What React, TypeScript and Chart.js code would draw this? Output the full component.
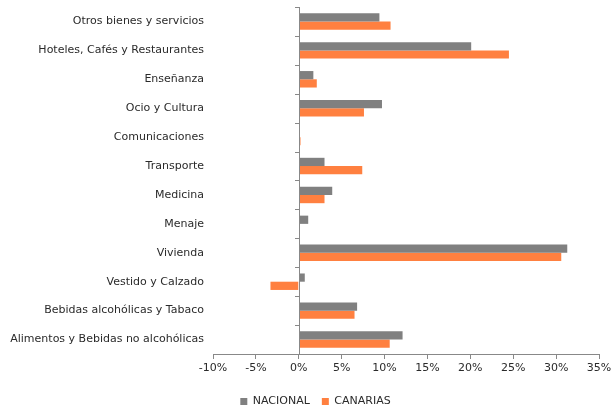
import React, { useEffect, useRef } from "react";
import { Chart, registerables } from "chart.js";

Chart.register(...registerables);

const categories = [
  "Otros bienes y servicios",
  "Hoteles, Cafés y Restaurantes",
  "Enseñanza",
  "Ocio y Cultura",
  "Comunicaciones",
  "Transporte",
  "Medicina",
  "Menaje",
  "Vivienda",
  "Vestido y Calzado",
  "Bebidas alcohólicas y Tabaco",
  "Alimentos y Bebidas no alcohólicas",
];

const nacional = [9.4, 20.1, 1.7, 9.7, 0.0, 3.0, 3.9, 1.1, 31.3, 0.7, 6.8, 12.1];
const canarias = [10.7, 24.5, 2.1, 7.6, 0.2, 7.4, 3.0, 0.0, 30.6, -3.3, 6.5, 10.6];

const xMin = -10;
const xMax = 35;
const xStep = 5;

const GRAY = "#808080";
const ORANGE = "#FF8040";
const AXIS = "#888888";
const TEXT = "#2a2a2a";
const FONT = "'DejaVu Sans', Verdana, sans-serif";

const zeroAxisPlugin = {
  id: "zeroAxis",
  afterLayout(chart: any) {
    const lg = chart.legend;
    if (lg) {
      lg.left += 16;
      lg.right += 16;
    }
  },
  afterDatasetsDraw(chart: any) {
    const { ctx, scales, chartArea } = chart;
    const x0 = scales.x.getPixelForValue(0);
    const y = scales.y;
    ctx.save();
    ctx.strokeStyle = AXIS;
    ctx.lineWidth = 1;
    ctx.beginPath();
    ctx.moveTo(Math.round(x0) + 0.5, chartArea.top);
    ctx.lineTo(Math.round(x0) + 0.5, chartArea.bottom);
    const n = categories.length;
    for (let i = 0; i < n; i++) {
      const yy = y.getPixelForValue(i) - (y.getPixelForValue(1) - y.getPixelForValue(0)) / 2;
      ctx.moveTo(Math.round(x0) - 4, Math.round(yy) + 0.5);
      ctx.lineTo(Math.round(x0) + 1, Math.round(yy) + 0.5);
    }
    ctx.stroke();
    ctx.restore();
  },
};

export default function App() {
  const ref = useRef<HTMLCanvasElement | null>(null);

  useEffect(() => {
    if (!ref.current) return;
    const chart = new Chart(ref.current, {
      type: "bar",
      data: {
        labels: categories,
        datasets: [
          {
            label: "NACIONAL",
            data: nacional,
            backgroundColor: GRAY,
            borderWidth: 0,
            categoryPercentage: 0.57,
            barPercentage: 1.0,
          },
          {
            label: "CANARIAS",
            data: canarias,
            backgroundColor: ORANGE,
            borderWidth: 0,
            categoryPercentage: 0.57,
            barPercentage: 1.0,
          },
        ],
      },
      options: {
        indexAxis: "y",
        animation: false,
        responsive: false,
        maintainAspectRatio: false,
        layout: { padding: { top: 7, right: 17, left: 0, bottom: -8 } },
        plugins: {
          tooltip: { enabled: false },
          legend: {
            position: "bottom",
            labels: {
              boxWidth: 7,
              boxHeight: 7,
              padding: 12,
              color: TEXT,
              font: { family: FONT, size: 11 },
            },
          },
        },
        scales: {
          x: {
            type: "linear",
            min: xMin,
            max: xMax,
            ticks: {
              stepSize: xStep,
              color: TEXT,
              font: { family: FONT, size: 11 },
              padding: 3,
              callback: (v: any) => `${v}%`,
            },
            grid: {
              color: () => "transparent",
              tickColor: AXIS,
              tickLength: 5,
              drawOnChartArea: false,
            },
            border: { display: true, color: AXIS },
            afterFit: (scale: any) => {
              scale.height = 30;
              scale.paddingLeft = 0;
              scale.paddingRight = 0;
            },
          },
          y: {
            type: "category",
            ticks: {
              color: TEXT,
              font: { family: FONT, size: 11 },
              padding: 9,
            },
            grid: { display: false, drawTicks: false },
            border: { display: false },
            afterFit: (scale: any) => {
              scale.width = 213;
              scale.paddingTop = 0;
              scale.paddingBottom = 0;
            },
          },
        },
      },
      plugins: [zeroAxisPlugin],
    });
    return () => chart.destroy();
  }, []);

  return (
    <div style={{ position: "absolute", left: 0, top: 0, width: 616, height: 409, background: "#fff" }}>
      <canvas ref={ref} width={616} height={409} style={{ width: 616, height: 409 }} />
    </div>
  );
}
